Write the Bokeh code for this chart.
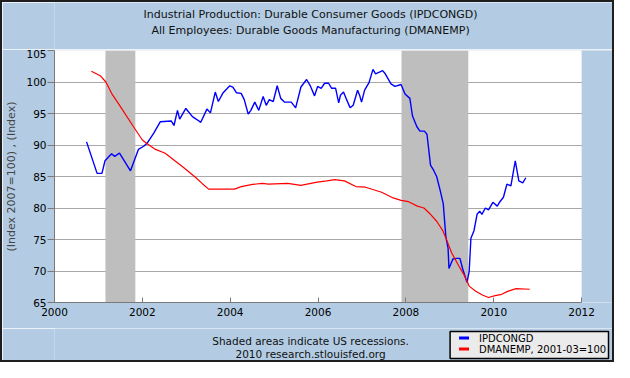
from bokeh.plotting import figure
from bokeh.layouts import column
from bokeh.models import FixedTicker, BoxAnnotation, Range1d
from bokeh.core.properties import value
from bokeh.embed import file_html
from bokeh.resources import INLINE

# ---- data (decimal years) ----
ipd_x = [2000.73, 2000.97, 2001.08, 2001.15, 2001.30, 2001.37, 2001.48, 2001.73, 2001.91,
         2002.03, 2002.11, 2002.26, 2002.41, 2002.66, 2002.72, 2002.80, 2002.85, 2002.99,
         2003.14, 2003.25, 2003.33, 2003.47, 2003.55, 2003.66, 2003.73, 2003.84, 2003.99,
         2004.06, 2004.14, 2004.25, 2004.32, 2004.41, 2004.47, 2004.56, 2004.65, 2004.75,
         2004.82, 2004.89, 2004.98, 2005.07, 2005.15, 2005.24, 2005.39, 2005.49, 2005.61,
         2005.74, 2005.83, 2005.92, 2005.99, 2006.07, 2006.15, 2006.24, 2006.31, 2006.40,
         2006.47, 2006.51, 2006.58, 2006.65, 2006.73, 2006.80, 2006.90, 2006.95, 2006.99,
         2007.06, 2007.16, 2007.25, 2007.31, 2007.47, 2007.53, 2007.66, 2007.75, 2007.89,
         2007.98, 2008.09, 2008.15, 2008.25, 2008.32, 2008.42, 2008.48, 2008.56, 2008.63,
         2008.70, 2008.78, 2008.85, 2008.91, 2008.96, 2008.98, 2009.07, 2009.15, 2009.23,
         2009.29, 2009.39, 2009.44, 2009.48, 2009.55, 2009.62, 2009.68, 2009.73, 2009.81,
         2009.88, 2009.98, 2010.08, 2010.14, 2010.22, 2010.30, 2010.39, 2010.43, 2010.49,
         2010.57, 2010.66, 2010.73]
ipd_y = [90.5, 85.5, 85.5, 87.5, 88.6, 88.2, 88.7, 85.9, 89.3,
         89.8, 90.3, 91.9, 93.7, 93.8, 93.1, 95.5, 94.1, 95.8,
         94.5, 94.0, 93.6, 95.7, 95.1, 98.4, 96.9, 98.3, 99.4,
         99.2, 98.3, 98.2, 97.2, 94.9, 95.5, 96.8, 95.5, 97.7,
         96.3, 97.2, 96.9, 99.4, 97.4, 96.8, 96.8, 95.9, 99.2,
         100.4, 99.3, 97.8, 99.3, 99.0, 99.8, 99.8, 99.0, 99.0,
         96.7, 97.9, 98.4, 97.2, 95.9, 96.3, 98.7, 97.8, 96.8,
         98.7, 99.9, 102.0, 101.3, 101.8, 101.3, 99.7, 99.3, 99.6,
         98.1, 97.4, 94.6, 92.9, 92.2, 92.2, 91.7, 86.8, 86.0,
         85.0, 82.8, 80.7, 75.4, 73.6, 70.4, 71.9, 72.0, 72.0,
         70.4, 68.2, 69.9, 75.2, 76.4, 79.0, 79.5, 79.0, 80.0,
         79.7, 80.9, 80.3, 81.0, 81.7, 83.8, 83.5, 85.1, 87.5,
         84.3, 84.0, 84.8]

dm_x = [2000.84, 2001.04, 2001.17, 2001.30, 2001.49, 2001.78, 2002.00, 2002.11, 2002.30,
        2002.52, 2002.74, 2002.96, 2003.22, 2003.36, 2003.51, 2003.88, 2004.10, 2004.25,
        2004.51, 2004.73, 2004.87, 2005.31, 2005.61, 2005.75, 2005.98, 2006.20, 2006.38,
        2006.60, 2006.86, 2007.08, 2007.45, 2007.71, 2007.89, 2008.06, 2008.26, 2008.41,
        2008.56, 2008.70, 2008.84, 2008.93, 2009.04, 2009.18, 2009.33, 2009.44, 2009.59,
        2009.74, 2009.88, 2010.03, 2010.18, 2010.33, 2010.51, 2010.82]
dm_y = [101.7, 101.0, 100.0, 98.2, 96.2, 93.1, 90.8, 90.2, 89.3,
        88.7, 87.5, 86.3, 84.8, 83.9, 83.0, 83.0, 83.0, 83.4,
        83.75, 83.9, 83.8, 83.9, 83.6, 83.8, 84.1, 84.3, 84.5,
        84.3, 83.4, 83.3, 82.5, 81.6, 81.2, 81.0, 80.3, 80.0,
        79.0, 77.9, 76.4, 74.9, 72.9, 71.1, 69.3, 67.6, 66.8,
        66.2, 65.8, 66.1, 66.3, 66.8, 67.2, 67.1]

recession_start = [2001.16, 2007.90]
recession_end = [2001.84, 2009.42]

x_ticks = [2000, 2002, 2004, 2006, 2008, 2010, 2012]
y_ticks = [65, 70, 75, 80, 85, 90, 95, 100, 105]
grid_ticks = [70, 75, 80, 85, 90, 95, 100]

series_labels = ["IPDCONGD", "DMANEMP, 2001-03=100"]
series_colors = ["#0000FF", "#FF0000"]
title_lines = ["Industrial Production: Durable Consumer Goods (IPDCONGD)",
               "All Employees: Durable Goods Manufacturing (DMANEMP)"]
footer_lines = ["Shaded areas indicate US recessions.", "2010 research.stlouisfed.org"]
y_label = "(Index 2007=100) , (Index)"

FONT = "DejaVu Sans"
BG = "#B3CCE3"
W = 610
LEFT = 50          # canvas x of the plot frame's left edge (shared by all strips)
X_END_PX = 579     # canvas x where 2012 sits
TOP_H, MAIN_H, BOT_H = 47, 279, 32

X0, X1 = x_ticks[0], x_ticks[-1]
x_hi = X0 + (X1 - X0) * (W - LEFT) / (X_END_PX - LEFT)


def blank_figure(h):
    f = figure(width=W, height=h, output_backend="svg", toolbar_location=None,
               x_range=Range1d(LEFT, W), y_range=Range1d(h, 0),
               x_axis_location=None, y_axis_location=None,
               min_border_left=LEFT, min_border_right=0, min_border_top=0, min_border_bottom=0)
    f.background_fill_color = BG
    f.border_fill_color = BG
    f.outline_line_color = None
    f.xgrid.visible = False
    f.ygrid.visible = False
    return f


# ---- title strip ----
top = blank_figure(TOP_H)
top.text(x=[307, 307], y=[11.5, 27.5], text=title_lines, text_align="center",
         text_baseline="middle", text_font=value(FONT), text_font_size=value("11px"),
         text_color="#111111")

# ---- main chart ----
p = figure(width=W, height=MAIN_H, output_backend="svg", toolbar_location=None,
           x_range=Range1d(X0, x_hi), y_range=Range1d(65, 105),
           min_border_left=LEFT, min_border_right=0, min_border_top=1, min_border_bottom=26)
p.background_fill_color = "white"
p.border_fill_color = BG
p.outline_line_color = None

p.xgrid.visible = False
p.ygrid.ticker = FixedTicker(ticks=grid_ticks)
p.ygrid.grid_line_color = "#A8A8A8"
p.ygrid.grid_line_width = 1

p.xaxis.ticker = FixedTicker(ticks=x_ticks)
p.xaxis.bounds = (X0, X1)
p.yaxis.ticker = FixedTicker(ticks=y_ticks)
for ax in (p.xaxis, p.yaxis):
    ax.minor_tick_line_color = None
    ax.major_label_text_font = FONT
    ax.major_label_text_font_size = "10.5px"
    ax.major_label_text_color = "black"
    ax.axis_line_color = "#7A7A7A"
    ax.major_tick_line_color = "#7A7A7A"
p.xaxis.major_tick_in = 5
p.xaxis.major_tick_out = 0
p.xaxis.major_label_standoff = 5
p.yaxis.major_tick_in = 0
p.yaxis.major_tick_out = 7
p.yaxis.major_label_standoff = 1
p.yaxis.axis_label = y_label
p.yaxis.axis_label_standoff = 5
p.yaxis.axis_label_text_font = FONT
p.yaxis.axis_label_text_font_size = "11px"
p.yaxis.axis_label_text_font_style = "normal"
p.yaxis.axis_label_text_color = "#444444"

for s, e in zip(recession_start, recession_end):
    p.add_layout(BoxAnnotation(left=s, right=e, fill_color="#BEBEBE", fill_alpha=1.0,
                               line_color=None, level="underlay"))
# area to the right of the last tick is page background, as in the original
p.add_layout(BoxAnnotation(left=X1, right=x_hi + 1, bottom=60, top=110, fill_color=BG,
                           fill_alpha=1.0, line_color=None, level="underlay"))

p.line(ipd_x, ipd_y, line_color=series_colors[0], line_width=1.4)
p.line(dm_x, dm_y, line_color=series_colors[1], line_width=1.2)

# ---- footer strip with legend box ----
bot = blank_figure(BOT_H)
bot.text(x=[307, 307], y=[12, 25], text=footer_lines, text_align="center",
         text_baseline="middle", text_font=value(FONT), text_font_size=value("10.5px"),
         text_color="#111111")
bot.quad(left=[447], right=[606], top=[3], bottom=[30], fill_color="#EBEBEB",
         line_color="black", line_width=1.5)
bot.segment(x0=[456, 456], y0=[9.5, 20.5], x1=[466, 466], y1=[9.5, 20.5],
            line_color=series_colors, line_width=3)
bot.text(x=[476, 476], y=[9.5, 20.5], text=series_labels, text_align="left",
         text_baseline="middle", text_font=value(FONT), text_font_size=value("10px"),
         text_color="black")

layout = column(top, p, bot, spacing=0)
layout.styles = {"border": "2px solid #1E1E1E"}

open("out.html", "w").write(file_html(layout, INLINE))
